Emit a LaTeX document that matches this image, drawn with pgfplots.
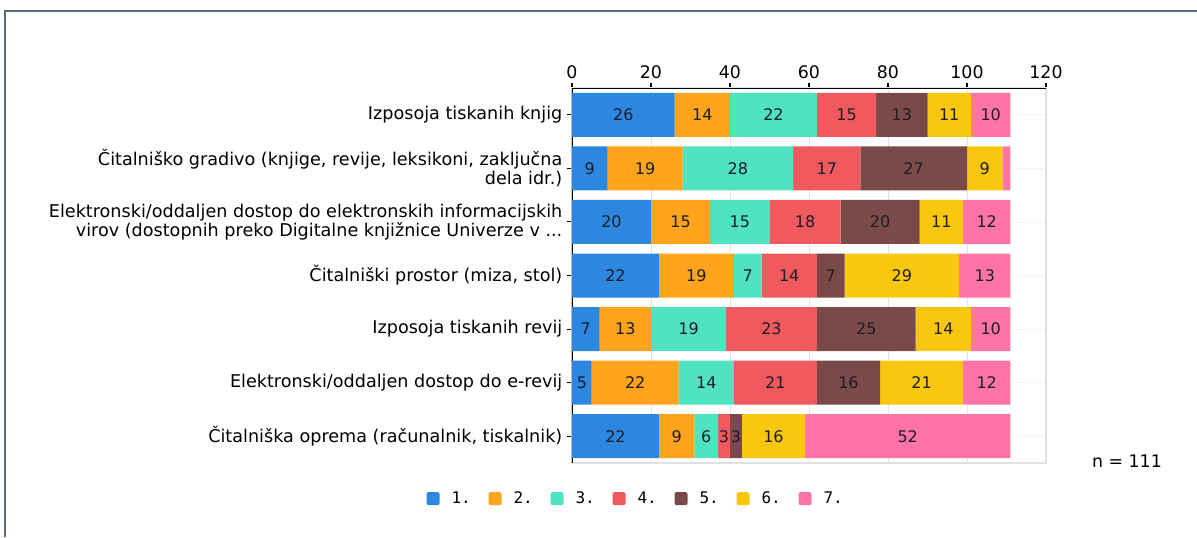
\documentclass[border=0pt]{standalone}
\usepackage{pgfplots}
\pgfplotsset{compat=1.18}
\usepackage{fontspec}
\setmainfont{DejaVu Sans}
\setmonofont{DejaVu Sans Mono}
\definecolor{c1}{RGB}{45,135,225}
\definecolor{c2}{RGB}{255,164,28}
\definecolor{c3}{RGB}{80,227,194}
\definecolor{c4}{RGB}{240,90,94}
\definecolor{c5}{RGB}{122,74,72}
\definecolor{c6}{RGB}{249,200,14}
\definecolor{c7}{RGB}{255,116,168}
\definecolor{bordercol}{RGB}{90,104,128}
\definecolor{gridcol}{RGB}{225,225,225}
\definecolor{lblcol}{RGB}{30,30,40}
\begin{document}
\begin{tikzpicture}[x=0.75pt,y=-0.75pt]
\useasboundingbox (0,0) rectangle (1197,537);
\draw[color=bordercol, line width=1.5pt] (5,537) -- (5,11) -- (1197,11);
\begin{axis}[
  at={(429pt,-66pt)}, anchor=north west,
  scale only axis, width=355.5pt, height=281.25pt,
  xbar stacked, bar width=33pt,
  xmin=0, xmax=120, ymin=-0.5, ymax=6.5,
  xtick={0,20,40,60,80,100,120},
  ytick={0,1,2,3,4,5,6},
  yticklabels={
    {Čitalniška oprema (računalnik, tiskalnik)},
    {Elektronski/oddaljen dostop do e-revij},
    {Izposoja tiskanih revij},
    {Čitalniški prostor (miza, stol)},
    {Elektronski/oddaljen dostop do elektronskih informacijskih\\virov (dostopnih preko Digitalne knjižnice Univerze v .{}.{}.},
    {Čitalniško gradivo (knjige, revije, leksikoni, zaključna\\dela idr.)},
    {Izposoja tiskanih knjig}},
  /pgf/number format/assume math mode=true,
  yticklabel style={align=right, font=\fontsize{13.2}{14.25}\selectfont, text=black},
  xticklabel style={font=\fontsize{13}{14}\selectfont},
  xticklabel pos=upper, xtick pos=upper, ytick pos=left,
  tick align=outside, major tick length=3.75pt,
  tick style={black, line width=0.8pt},
  axis line style={gridcol, line width=0.8pt},
  xmajorgrids, ymajorgrids,
  grid style={gridcol, line width=0.6pt},
  every axis y grid/.append style={dotted},
  point meta=explicit symbolic,
  nodes near coords={\pgfplotspointmeta},
  every node near coord/.append style={font=\fontsize{12}{14}\selectfont, text=lblcol},
  legend columns=7,
  legend style={at={(0.135,-0.095)}, anchor=center, draw=none, fill=none,
    font=\ttfamily\fontsize{12}{14}\selectfont,
    /tikz/every odd column/.append style={column sep=7pt},
    /tikz/every even column/.append style={column sep=11.3pt}},
  legend image code/.code={\fill[#1, rounded corners=1.5pt] (0pt,-4.9pt) rectangle (9.75pt,4.9pt);},
]
\addplot[fill=c1, draw=none] coordinates {(22,0)[22] (5,1)[5] (7,2)[7] (22,3)[22] (20,4)[20] (9,5)[9] (26,6)[26]};
\addplot[fill=c2, draw=none] coordinates {(9,0)[9] (22,1)[22] (13,2)[13] (19,3)[19] (15,4)[15] (19,5)[19] (14,6)[14]};
\addplot[fill=c3, draw=none] coordinates {(6,0)[6] (14,1)[14] (19,2)[19] (7,3)[7] (15,4)[15] (28,5)[28] (22,6)[22]};
\addplot[fill=c4, draw=none] coordinates {(3,0)[3] (21,1)[21] (23,2)[23] (14,3)[14] (18,4)[18] (17,5)[17] (15,6)[15]};
\addplot[fill=c5, draw=none] coordinates {(3,0)[3] (16,1)[16] (25,2)[25] (7,3)[7] (20,4)[20] (27,5)[27] (13,6)[13]};
\addplot[fill=c6, draw=none] coordinates {(16,0)[16] (21,1)[21] (14,2)[14] (29,3)[29] (11,4)[11] (9,5)[9] (11,6)[11]};
\addplot[fill=c7, draw=none] coordinates {(52,0)[52] (12,1)[12] (10,2)[10] (13,3)[13] (12,4)[12] (2,5)[{}] (10,6)[10]};
\legend{1.,2.,3.,4.,5.,6.,7.}
\draw[black, line width=1pt] (axis cs:0,-0.5) -- (axis cs:0,6.5) -- (axis cs:120,6.5);
\end{axis}
\node[font=\fontsize{13}{14}\selectfont] at (1127,461) {n = 111};
\end{tikzpicture}
\end{document}
